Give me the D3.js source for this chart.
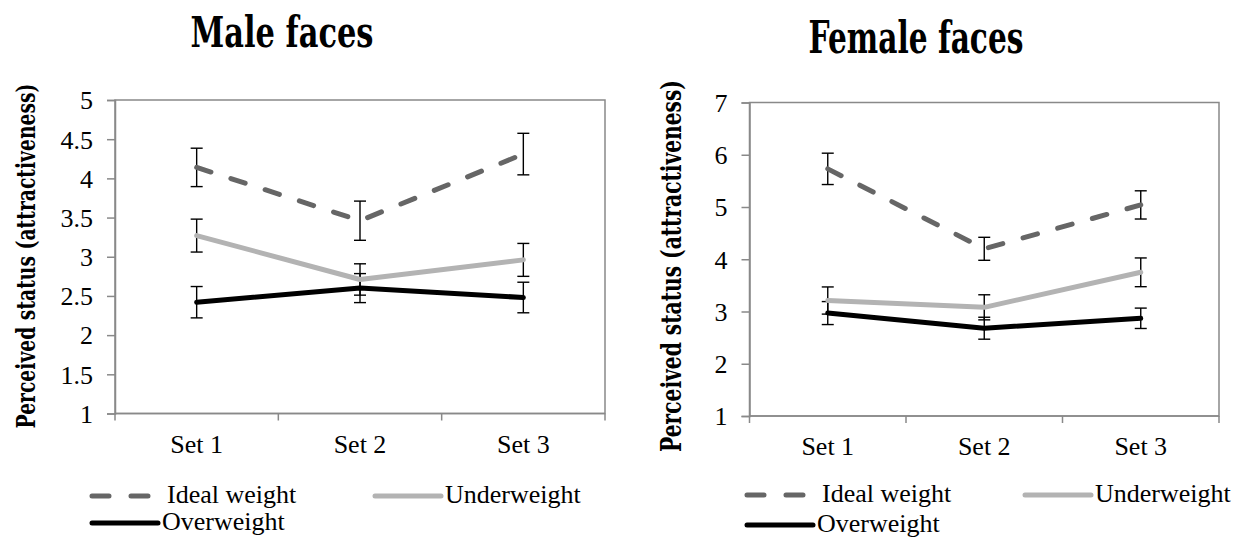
<!DOCTYPE html>
<html>
<head>
<meta charset="utf-8">
<script src="https://cdn.jsdelivr.net/npm/d3@7"></script>
<style>
	body { margin: 0; background: #fff; }
	svg { display: block; }
	svg text { font-family: "Liberation Serif", "DejaVu Serif", serif; }
</style>
</head>
<body>
<div id="svg"></div>
<script>
///////////////////////////////////////////////////////////////////////////////
//// Data /////////////////////////////////////////////////////////////////////
///////////////////////////////////////////////////////////////////////////////
const sets = ["Set 1", "Set 2", "Set 3"];
const seriesNames = ["Ideal weight", "Underweight", "Overweight"];

// Male faces: means and error bar half-lengths
const maleIdeal = [4.14, 3.46, 4.31],
			maleIdealErr = [0.245, 0.25, 0.265];
const maleUnder = [3.27, 2.71, 2.96],
			maleUnderErr = [0.21, 0.2, 0.21];
const maleOver = [2.42, 2.60, 2.48],
			maleOverErr = [0.2, 0.185, 0.195];
const maleTicks = [1, 1.5, 2, 2.5, 3, 3.5, 4, 4.5, 5];

// Female faces
const femaleIdeal = [5.73, 4.20, 5.04],
			femaleIdealErr = [0.30, 0.22, 0.27];
const femaleUnder = [3.21, 3.08, 3.75],
			femaleUnderErr = [0.26, 0.24, 0.275];
const femaleOver = [2.97, 2.68, 2.87],
			femaleOverErr = [0.22, 0.21, 0.195];
const femaleTicks = [1, 2, 3, 4, 5, 6, 7];

///////////////////////////////////////////////////////////////////////////////
//// Set up ///////////////////////////////////////////////////////////////////
///////////////////////////////////////////////////////////////////////////////
const width = 1256,
			height = 538;

const serif = "\"Liberation Serif\", serif";
const boldSerif = "\"DejaVu Serif\", \"Liberation Serif\", serif";
const axisColor = "#898989";
const styles = [
	{ color: "#666666", dash: "15,21" },
	{ color: "#b3b3b3", dash: null },
	{ color: "#000000", dash: null }
];

const svg = d3.select("#svg")
	.append("svg")
		.attr("width", width)
		.attr("height", height);

const charts = [
	{
		title: "Male faces", titleX: 282, titleY: 47, titleSize: 42, titleLen: 183,
		labelX: 35, labelY: 256, labelSize: 26, labelLen: 345,
		left: 115, right: 605, top: 100, bottom: 413.5,
		domain: [1, 5], ticks: maleTicks, tickSize: 26, xLabelY: 453,
		values: [maleIdeal, maleUnder, maleOver],
		errs: [maleIdealErr, maleUnderErr, maleOverErr],
		legendX: 90, legendY: [496, 523], underX: 373
	},
	{
		title: "Female faces", titleX: 916, titleY: 53, titleSize: 45, titleLen: 215,
		labelX: 681, labelY: 266, labelSize: 28, labelLen: 372,
		left: 749.5, right: 1219, top: 102.5, bottom: 416,
		domain: [1, 7], ticks: femaleTicks, tickSize: 26, xLabelY: 455,
		values: [femaleIdeal, femaleUnder, femaleOver],
		errs: [femaleIdealErr, femaleUnderErr, femaleOverErr],
		legendX: 745, legendY: [495, 525], underX: 1023
	}
];

charts.forEach(drawChart);

///////////////////////////////////////////////////////////////////////////////
//// Helpers //////////////////////////////////////////////////////////////////
///////////////////////////////////////////////////////////////////////////////

// Bold heading squeezed horizontally to a given width (the source is a narrow bold face)
function squeezedText(parent, str, size, len, transform) {
	const t = parent.append("text")
			.attr("text-anchor", "middle")
			.style("font-family", boldSerif)
			.attr("font-weight", "bold")
			.attr("font-size", size)
			.text(str);
	const natural = t.node().getComputedTextLength();
	t.attr("transform", `${transform} scale(${len / natural}, 1)`);
	return t;
}

///////////////////////////////////////////////////////////////////////////////
//// Draw one chart ///////////////////////////////////////////////////////////
///////////////////////////////////////////////////////////////////////////////
function drawChart(c) {
	const g = svg.append("g");

	const x = d3.scaleBand()
			.domain(sets)
			.range([c.left, c.right]);

	const y = d3.scaleLinear()
			.domain(c.domain)
			.range([c.bottom, c.top]);

	// Title
	squeezedText(g, c.title, c.titleSize, c.titleLen,
			`translate(${c.titleX}, ${c.titleY})`);

	// Y axis title
	squeezedText(g, "Perceived status (attractiveness)", c.labelSize, c.labelLen,
			`translate(${c.labelX}, ${c.labelY}) rotate(-90)`);

	// Plot frame
	g.append("rect")
			.attr("x", c.left)
			.attr("y", c.top)
			.attr("width", c.right - c.left)
			.attr("height", c.bottom - c.top)
			.attr("fill", "none")
			.attr("stroke", axisColor)
			.attr("stroke-width", 1.5);

	// Y axis
	const yAxis = g.append("g")
			.attr("transform", `translate(${c.left}, 0)`)
			.call(d3.axisLeft(y)
					.tickValues(c.ticks)
					.tickSize(8)
					.tickPadding(14)
					.tickFormat(d3.format("")));
	yAxis.attr("font-family", serif);
	yAxis.select(".domain").attr("stroke", axisColor).attr("stroke-width", 1.5);
	yAxis.selectAll(".tick line").attr("stroke", axisColor).attr("stroke-width", 1.5);
	yAxis.selectAll(".tick text")
			.attr("font-size", c.tickSize)
			.attr("fill", "#000")
			.attr("dy", "0.34em");

	// X axis: ticks at category boundaries, labels at category centres
	const xAxis = g.append("g")
			.attr("transform", `translate(0, ${c.bottom})`);
	xAxis.append("line")
			.attr("x1", c.left)
			.attr("x2", c.right)
			.attr("stroke", axisColor)
			.attr("stroke-width", 1.5);
	xAxis.selectAll(".xtick")
		.data(sets.concat(["end"]))
		.enter()
		.append("line")
			.attr("class", "xtick")
			.attr("x1", d => d === "end" ? c.right : x(d))
			.attr("x2", d => d === "end" ? c.right : x(d))
			.attr("y2", 7)
			.attr("stroke", axisColor)
			.attr("stroke-width", 1.5);
	g.selectAll(".xlabel")
		.data(sets)
		.enter()
		.append("text")
			.attr("x", d => x(d) + x.bandwidth() / 2)
			.attr("y", c.xLabelY)
			.attr("text-anchor", "middle")
			.attr("font-family", serif)
			.attr("font-size", c.tickSize)
			.text(d => d);

	// Error bars (under the lines)
	const cx = i => x(sets[i]) + x.bandwidth() / 2;
	c.values.forEach((vals, s) => {
		const eg = g.append("g")
				.attr("stroke", "#000")
				.attr("stroke-width", 1.4)
				.attr("fill", "none");
		vals.forEach((v, i) => {
			const e = c.errs[s][i];
			eg.append("line")
					.attr("x1", cx(i)).attr("x2", cx(i))
					.attr("y1", y(v + e)).attr("y2", y(v - e));
			[v + e, v - e].forEach(w => {
				eg.append("line")
						.attr("x1", cx(i) - 6).attr("x2", cx(i) + 6)
						.attr("y1", y(w)).attr("y2", y(w));
			});
		});
	});

	// Series lines
	const line = d3.line()
			.x((d, i) => cx(i))
			.y(d => y(d));

	c.values.forEach((vals, s) => {
		g.append("path")
				.datum(vals)
				.attr("fill", "none")
				.attr("stroke", styles[s].color)
				.attr("stroke-width", 5)
				.attr("stroke-linecap", "round")
				.attr("stroke-linejoin", "round")
				.attr("stroke-dasharray", styles[s].dash)
				.attr("d", line);
	});

	// Legend
	const legendPos = [
		{ x: c.legendX, y: c.legendY[0] },
		{ x: c.underX, y: c.legendY[0] },
		{ x: c.legendX, y: c.legendY[1] }
	];
	seriesNames.forEach((name, s) => {
		const p = legendPos[s];
		g.append("line")
				.attr("x1", p.x + 2).attr("x2", p.x + 68)
				.attr("y1", p.y).attr("y2", p.y)
				.attr("stroke", styles[s].color)
				.attr("stroke-width", 5)
				.attr("stroke-linecap", "round")
				.attr("stroke-dasharray", styles[s].dash ? "17,22" : null);
		g.append("text")
				.attr("x", p.x + (s === 0 ? 77 : 72))
				.attr("y", p.y + 7)
				.attr("font-family", serif)
				.attr("font-size", 26)
				.text(name);
	});
}
</script>
</body>
</html>
